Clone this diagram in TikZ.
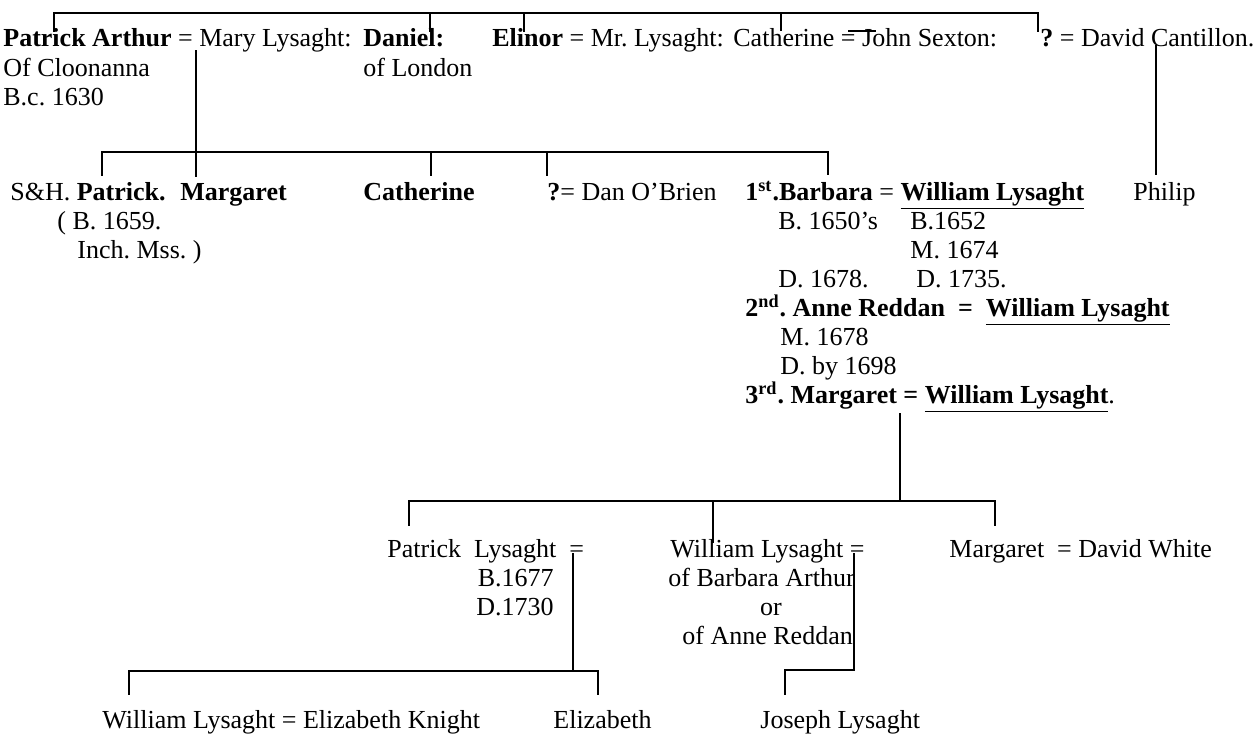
\documentclass[tikz,border=0pt]{standalone}
\usepackage{fontspec}
\setmainfont{Liberation Serif}
\frenchspacing
\begin{document}
\begin{tikzpicture}[x=0.5pt,y=-0.5pt,
    txt/.style={anchor=base west,inner sep=0pt,font=\fontsize{13}{14.5}\selectfont},
    line/.style={line width=0.8pt}]
    \useasboundingbox (0,0) rectangle (1254,738);
    % first generation
    \node[txt] (pa) at (3,47) {\textbf{Patrick Arthur} = Mary Lysaght:};
    \node[txt] (pa-b) at (3,77) {Of Cloonanna};
    \node[txt] (pa-c) at (3,106) {B.c. 1630};
    \node[txt] (dan) at (363,47) {\textbf{Daniel:}};
    \node[txt] (dan-b) at (363,77) {of London};
    \node[txt] (eli) at (492,47) {\textbf{Elinor} = Mr. Lysaght:};
    \node[txt] (cat) at (733,47) {Catherine = John Sexton:};
    \node[txt] (cant) at (1040,47) {\textbf{?} = David Cantillon.};
    % second generation
    \node[txt] (sh) at (10,200) {S\&H. \textbf{Patrick.}};
    \node[txt] (sh-b) at (57,229) {( B. 1659.};
    \node[txt] (sh-c) at (77,258) {Inch. Mss. )};
    \node[txt] (marg) at (180,200) {\textbf{Margaret}};
    \node[txt] (cath) at (363,200) {\textbf{Catherine}};
    \node[txt] (obr) at (547,200) {\textbf{?}= Dan O’Brien};
    \node[txt] (bar) at (745,200) {\textbf{1\textsuperscript{st}.Barbara} = \underline{\textbf{William Lysaght}}};
    \node[txt] (bar-b) at (778,229) {B. 1650’s};
    \node[txt] (bar-d) at (778,287) {D. 1678.};
    \node[txt] (wl-b) at (910,229) {B.1652};
    \node[txt] (wl-m) at (910,258) {M. 1674};
    \node[txt] (wl-d) at (916,287) {D. 1735.};
    \node[txt] (anne) at (745,316) {\textbf{2\textsuperscript{nd}. Anne Reddan~ =~ \underline{William Lysaght}}};
    \node[txt] (anne-m) at (780,345) {M. 1678};
    \node[txt] (anne-d) at (780,374) {D. by 1698};
    \node[txt] (mgt) at (745,403) {\textbf{3\textsuperscript{rd}. Margaret = \underline{William Lysaght}}.};
    \node[txt] (phil) at (1133,200) {Philip};
    % third generation
    \node[txt] (plys) at (387,557) {Patrick~ Lysaght~ =};
    \node[txt,anchor=base east] (plys-b) at (554,586) {B.1677};
    \node[txt,anchor=base east] (plys-d) at (554,615) {D.1730};
    \node[txt] (wlys) at (670,557) {William Lysaght =};
    \node[txt] (wlys-b) at (668,586) {of Barbara Arthur};
    \node[txt,anchor=base] (wlys-or) at (771,615) {or};
    \node[txt] (wlys-c) at (682,644) {of Anne Reddan};
    \node[txt] (mwh) at (949,557) {Margaret~ = David White};
    % fourth generation
    \node[txt] (wk) at (102,728) {William Lysaght = Elizabeth Knight};
    \node[txt] (eliz) at (553,728) {Elizabeth};
    \node[txt] (jos) at (760,728) {Joseph Lysaght};

    % top bar
    \coordinate (a0) at (54,13);
    \coordinate (a1) at (430,13);
    \coordinate (a2) at (524,13);
    \coordinate (a3) at (781,13);
    \coordinate (a4) at (1038,13);
    \draw[line,shorten <=-1.5pt,shorten >=-1.5pt] (a0 |- pa.north) -- (a0) -- (a4) -- (a4 |- cant.north);
    \draw[line,shorten >=-1.5pt] (a1) -- (a1 |- dan.north);
    \draw[line,shorten >=-1.5pt] (a2) -- (a2 |- eli.north);
    \draw[line,shorten >=-1pt] (a3) -- (a3 |- cat.north);
    \draw[line] (848,31) -- (876,31);
    % children of Mary Lysaght
    \coordinate (b0) at (102,152);
    \coordinate (b1) at (196,152);
    \coordinate (b2) at (431,152);
    \coordinate (b3) at (547,152);
    \coordinate (b4) at (828,152);
    \draw[line,shorten <=3pt,shorten >=3pt] (b0 |- sh.north) -- (b0) -- (b4) -- (b4 |- bar.north);
    \draw[line,shorten <=-1.5pt,shorten >=3pt] (b1 |- pa.south) -- (b1 |- marg.north);
    \draw[line,shorten >=3pt] (b2) -- (b2 |- cath.north);
    \draw[line,shorten >=3pt] (b3) -- (b3 |- obr.north);
    % Philip
    \coordinate (c1) at (1156,152);
    \draw[line,shorten <=-1.5pt,shorten >=3.5pt] (c1 |- cant.south) -- (c1 |- phil.north);
    % children of the third marriage
    \coordinate (d0) at (409,501);
    \coordinate (d1) at (713,501);
    \coordinate (d2) at (900,501);
    \coordinate (d4) at (995,501);
    \draw[line] (d2 |- mgt.south) -- (d2);
    \draw[line,shorten <=6.5pt,shorten >=6.5pt] (d0 |- plys.north) -- (d0) -- (d4) -- (d4 |- mwh.north);
    \draw[line,shorten >=-2pt] (d1) -- (d1 |- wlys.north);
    % children of Patrick Lysaght
    \coordinate (e0) at (129,671);
    \coordinate (e1) at (573,671);
    \coordinate (e3) at (598,671);
    \draw[line,shorten <=-2pt] (e1 |- plys.base) -- (e1);
    \draw[line,shorten <=7.5pt,shorten >=7.5pt] (e0 |- wk.north) -- (e0) -- (e3) -- (e3 |- eliz.north);
    % child of William Lysaght
    \coordinate (f1) at (854,670);
    \coordinate (f2) at (785,670);
    \draw[line,shorten <=-2pt,shorten >=7.5pt] (f1 |- wlys.base) -- (f1) -- (f2) -- (f2 |- jos.north);
\end{tikzpicture}
\end{document}
